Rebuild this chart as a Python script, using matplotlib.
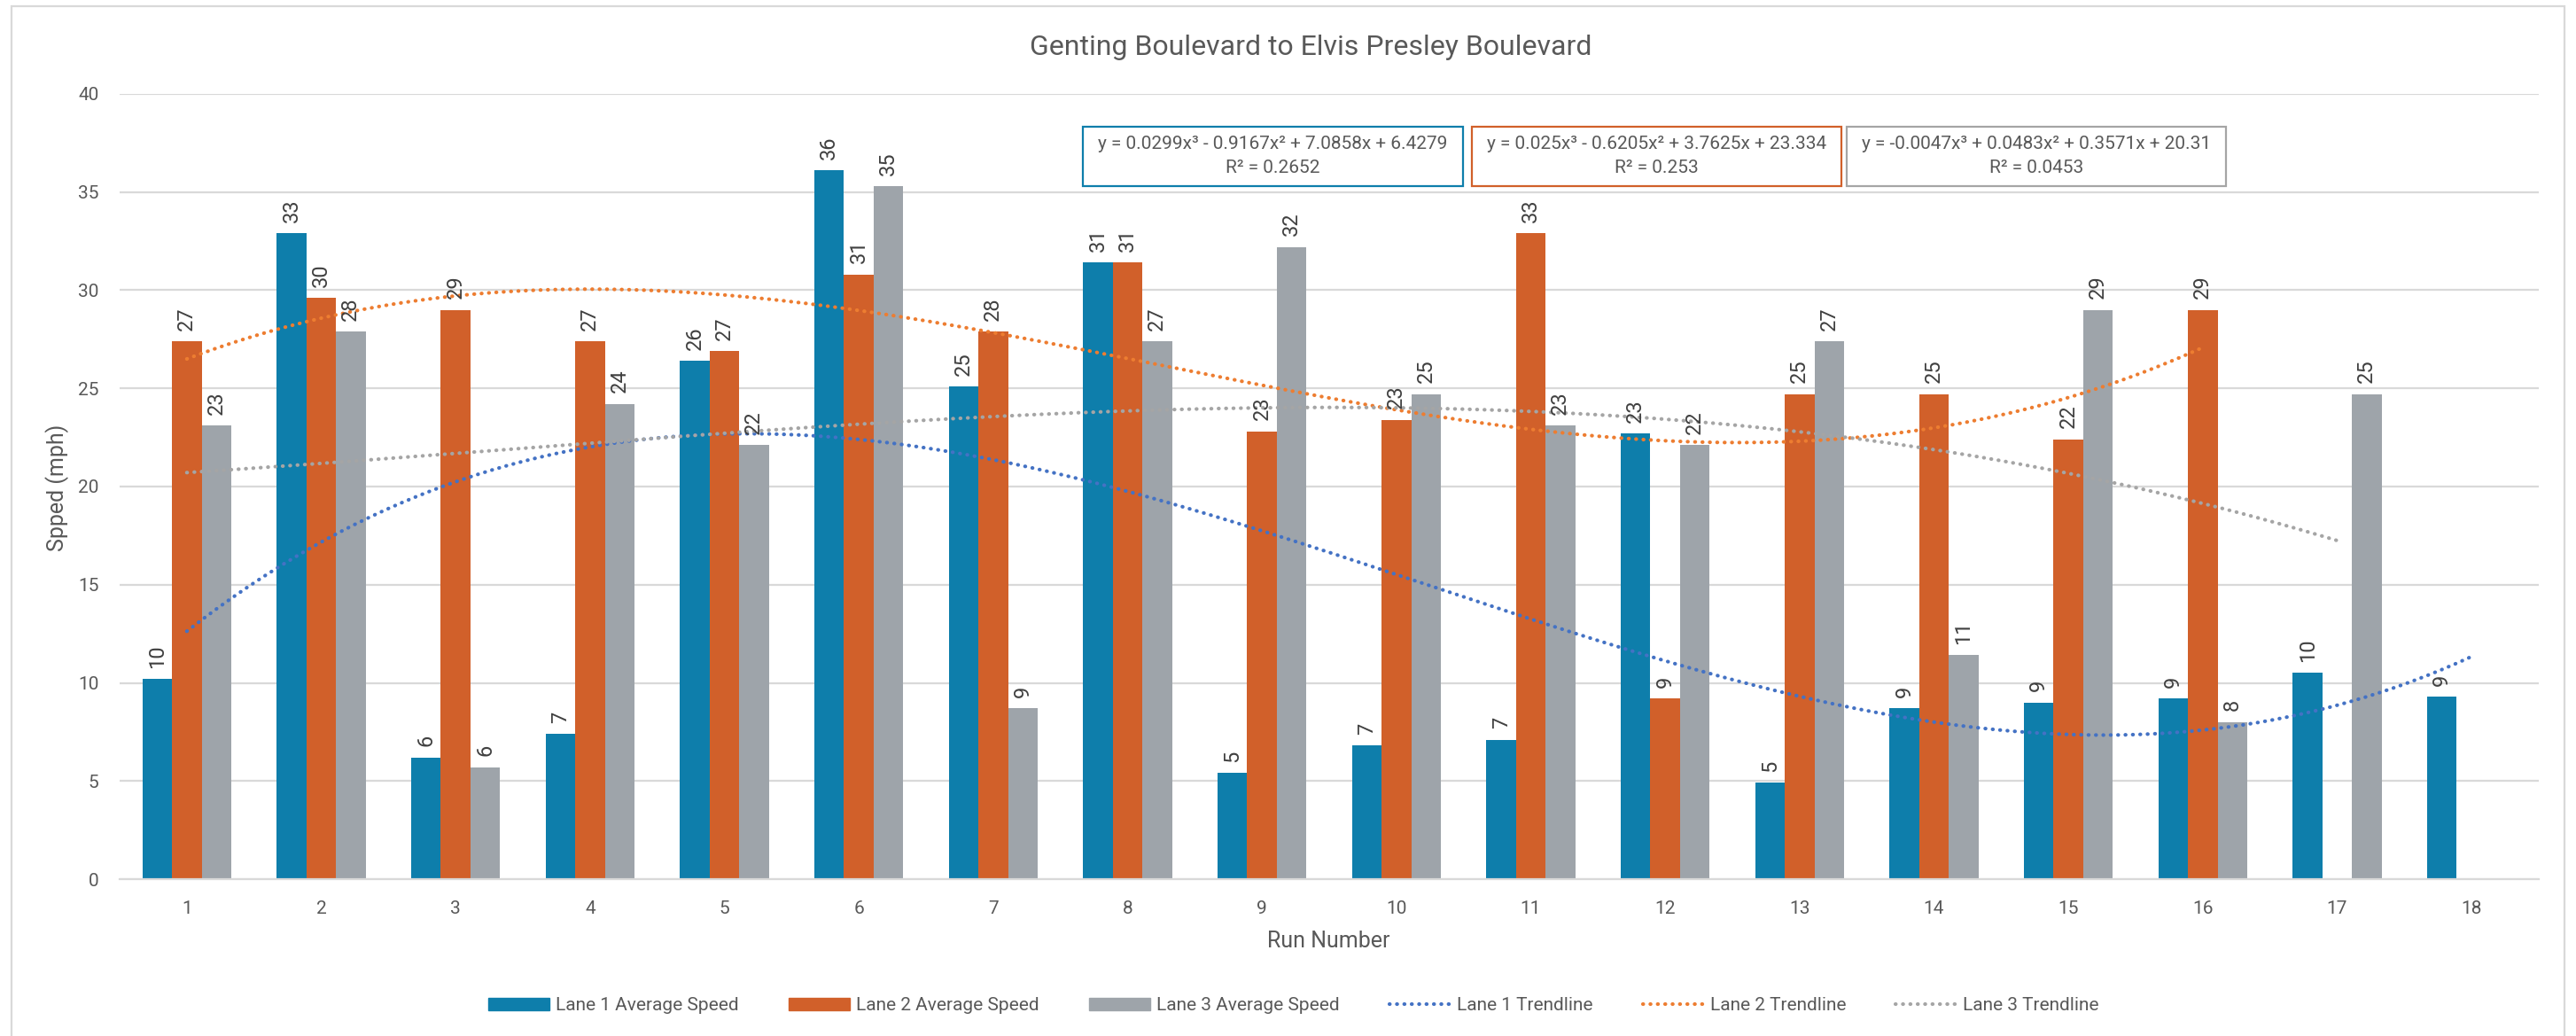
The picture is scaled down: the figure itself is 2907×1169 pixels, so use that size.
import numpy as np
import matplotlib
matplotlib.use("Agg")
import matplotlib.pyplot as plt
from matplotlib.patches import Rectangle
from matplotlib.lines import Line2D
from matplotlib.patches import Patch

runs = list(range(1, 19))
lane1 = [10.2, 32.9, 6.2, 7.4, 26.4, 36.1, 25.1, 31.4, 5.4, 6.8, 7.1, 22.7, 4.9, 8.7, 9.0, 9.2, 10.5, 9.3]
lane2 = [27.4, 29.6, 29.0, 27.4, 26.9, 30.8, 27.9, 31.4, 22.8, 23.4, 32.9, 9.2, 24.7, 24.7, 22.4, 29.0, np.nan, np.nan]
lane3 = [23.1, 27.9, 5.7, 24.2, 22.1, 35.3, 8.7, 27.4, 32.2, 24.7, 23.1, 22.1, 27.4, 11.4, 29.0, 8.0, 24.7, np.nan]

series_names = ["Lane 1 Average Speed", "Lane 2 Average Speed", "Lane 3 Average Speed"]
trend_names = ["Lane 1 Trendline", "Lane 2 Trendline", "Lane 3 Trendline"]

# cubic trendline coefficients as shown in the chart
trend1 = [0.0299, -0.9167, 7.0858, 6.4279]
trend2 = [0.025, -0.6205, 3.7625, 23.334]
trend3 = [-0.0047, 0.0483, 0.3571, 20.31]
eq_text = ["y = 0.0299x³ - 0.9167x² + 7.0858x + 6.4279\nR² = 0.2652",
           "y = 0.025x³ - 0.6205x² + 3.7625x + 23.334\nR² = 0.253",
           "y = -0.0047x³ + 0.0483x² + 0.3571x + 20.31\nR² = 0.0453"]

bar_colors = ["#0E7EAB", "#D1602A", "#9EA4AA"]
trend_colors = ["#4472C4", "#ED7D31", "#A5A5A5"]
txt = "#595959"
grid = "#D9D9D9"

plt.rcParams['font.family'] = ['Roboto', 'DejaVu Sans']

W, H = 2907, 1169
fig = plt.figure(figsize=(W / 100, H / 100), dpi=100)
fig.set_facecolor('white')


def fx(px):
    return px / W


def fy(py):
    return 1 - py / H


ax = fig.add_axes([fx(135), fy(992), fx(2865) - fx(135), fy(106) - fy(992)])

x = np.array(runs, dtype=float)
width = 0.22
offsets = [-width, 0, width]
for data, off, col in zip([lane1, lane2, lane3], offsets, bar_colors):
    vals = np.array(data, dtype=float)
    ok = ~np.isnan(vals)
    ax.bar(x[ok] + off, vals[ok], width=width, color=col, zorder=2)
    for xi, v in zip(x[ok] + off, vals[ok]):
        ax.annotate("%.0f" % v, (xi, v), xytext=(0, 9), textcoords='offset points',
                    rotation=90, ha='center', va='bottom', fontsize=17, color="#404040",
                    zorder=4)

for data, coef, col in zip([lane1, lane2, lane3], [trend1, trend2, trend3], trend_colors):
    vals = np.array(data, dtype=float)
    last = x[~np.isnan(vals)].max()
    xs = np.linspace(1, last, 300)
    ax.plot(xs, np.polyval(coef, xs), color=col, lw=3.0, linestyle=(0, (0.1, 1.9)),
            dash_capstyle='round', zorder=3)

ax.set_xlim(0.5, 18.5)
ax.set_ylim(0, 40)
ax.set_yticks(range(0, 41, 5))
ax.set_xticks(runs)
ax.yaxis.grid(True, color=grid, lw=1.6, zorder=0)
ax.set_axisbelow(True)
for s in ['top', 'right', 'left']:
    ax.spines[s].set_visible(False)
ax.spines['bottom'].set_color(grid)
ax.spines['bottom'].set_linewidth(1.6)
ax.tick_params(axis='both', length=0, labelsize=15, labelcolor=txt)
ax.tick_params(axis='y', pad=17)
ax.tick_params(axis='x', pad=17)

fig.text(fx(1479), fy(53), "Genting Boulevard to Elvis Presley Boulevard", ha='center', va='center',
         fontsize=23, color=txt)
fig.text(fx(1499), fy(1062), "Run Number", ha='center', va='center', fontsize=18, color=txt)
fig.text(fx(65), fy(550), "Spped (mph)", ha='center', va='center', rotation=90, fontsize=18, color=txt)

# equation boxes
boxes = [(1222, 1651), (1661, 2078), (2084, 2512)]
box_edges = ["#0E7EAB", "#D1602A", "#A5A5A5"]
for (x0, x1), ec, t in zip(boxes, box_edges, eq_text):
    fig.patches.append(Rectangle((fx(x0), fy(210)), fx(x1) - fx(x0), fy(143) - fy(210),
                                 transform=fig.transFigure, facecolor='white', edgecolor=ec,
                                 lw=1.6, zorder=5))
    fig.text(fx((x0 + x1) / 2), fy(176), t, ha='center', va='center', fontsize=15,
             color=txt, linespacing=1.5, zorder=6)

# outer chart border
fig.patches.append(Rectangle((fx(13), fy(1180)), fx(2894) - fx(13), fy(7) - fy(1180),
                             transform=fig.transFigure, fill=False, edgecolor=grid, lw=1.6))

handles = [Patch(color=c) for c in bar_colors]
handles += [Line2D([0], [0], color=c, lw=3.0, linestyle=(0, (0.1, 1.9)), dash_capstyle='round')
            for c in trend_colors]
leg = fig.legend(handles, series_names + trend_names, loc='center', ncol=6,
                 bbox_to_anchor=(fx(1460), fy(1135)), frameon=False, fontsize=15,
                 handlelength=3.3, handleheight=0.63, handletextpad=0.35, columnspacing=2.7)
for t in leg.get_texts():
    t.set_color(txt)

fig.savefig("out.png", dpi=100, facecolor='white')
